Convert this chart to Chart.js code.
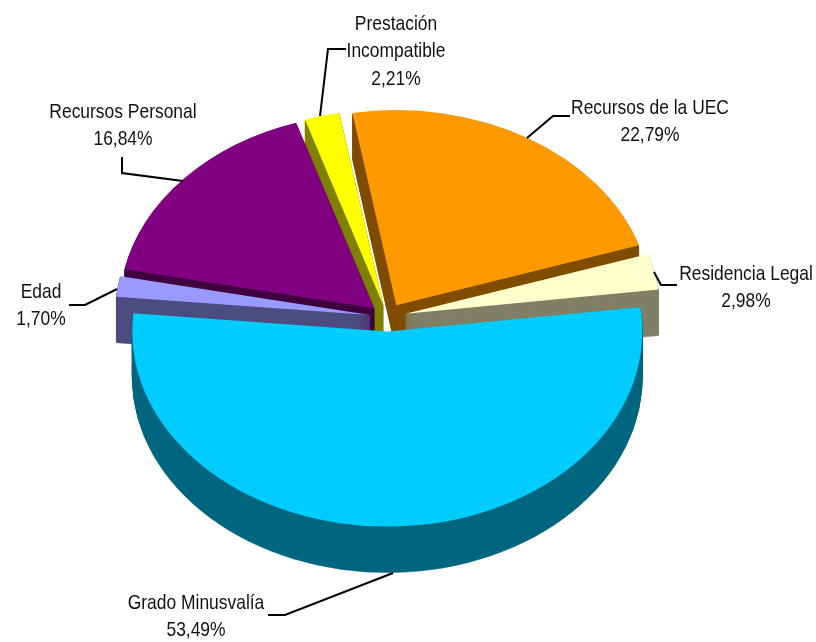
<!DOCTYPE html>
<html>
<head>
<meta charset="utf-8">
<title>Pie</title>
<script src="https://cdn.jsdelivr.net/npm/chart.js@4"></script>
<style>
  html, body { margin: 0; padding: 0; background: #fff; }
  canvas { display: block; }
</style>
</head>
<body>
<canvas id="tarta" width="816" height="642"></canvas>
<script>
// data, starting at the slice that sits at the chart rotation
const categorias = ["Edad", "Recursos Personal", "Prestación\nIncompatible", "Recursos de la UEC", "Residencia Legal", "Grado Minusvalía"];
const valores = [1.70, 16.84, 2.21, 22.79, 2.98, 53.49];

const colores = ["#9999FF", "#800080", "#FFFF00", "#FF9900", "#FFFFCC", "#00CCFF"];
const coloresLado = ["#4D4D80", "#400040", "#808000", "#804D00", "#808066", "#006680"];

// slice explosion in px, same order as valores
const separacion = [17, 17, 16, 18, 19, 19];

// where each label goes: center x, first line y, leader line points
const etiquetas = [
  { x: 41, y: 292, linea: [[69, 305], [85, 305], [117, 289]] },
  { x: 123, y: 112, linea: [[122, 157], [122, 173], [183, 181]] },
  { x: 396, y: 24, linea: [[346, 49], [328, 49], [320, 116]] },
  { x: 650, y: 108, linea: [[570, 116], [553, 116], [527, 138]] },
  { x: 746, y: 274, linea: [[677, 285], [661, 285], [654, 272]] },
  { x: 196, y: 603, linea: [[268, 615], [285, 615], [393, 573]] }
];

const aplastar = 0.765;  // pie tilt
const fondo = 46;        // thickness of the pie on screen
const altoLinea = 27.5;
const estrechar = 0.83;  // the labels use a narrow face

function porcentaje(v) {
  return v.toFixed(2).replace(".", ",") + "%";
}

const tarta3d = {
  id: "tarta3d",
  afterDatasetsUpdate(chart) {
    chart.getDatasetMeta(0).data.forEach((arc, i) => {
      const medio = (arc.startAngle + arc.endAngle) / 2;
      arc.x += Math.cos(medio) * separacion[i];
      arc.y += Math.sin(medio) * separacion[i];
    });
  },
  beforeDatasetsDraw(chart) {
    const ctx = chart.ctx;
    const cy = (chart.chartArea.top + chart.chartArea.bottom) / 2;
    ctx.save();
    ctx.translate(0, cy);
    ctx.scale(1, aplastar);
    ctx.translate(0, -cy);

    // the walls, from the back of the pie to the front
    const arcos = chart.getDatasetMeta(0).data.map((arc, i) => ({ arc, i }));
    arcos.sort((a, b) => Math.sin((a.arc.startAngle + a.arc.endAngle) / 2) - Math.sin((b.arc.startAngle + b.arc.endAngle) / 2));
    arcos.forEach(({ arc, i }) => {
      // thin border of the same colour, otherwise the stacked edges go blurry near the apex
      const opciones = Object.create(arc.options, {
        backgroundColor: { value: coloresLado[i] },
        borderColor: { value: coloresLado[i] },
        borderWidth: { value: 0.6 }
      });
      const lado = Object.create(arc, { options: { value: opciones } });
      for (let d = fondo; d >= 1; d--) {
        ctx.save();
        ctx.translate(0, d / aplastar);
        arc.draw.call(lado, ctx);
        ctx.restore();
      }
    });
  },
  afterDatasetsDraw(chart) {
    chart.ctx.restore();
  },
  afterDraw(chart) {
    const ctx = chart.ctx;
    ctx.save();
    ctx.strokeStyle = "#000";
    ctx.lineWidth = 2;
    ctx.fillStyle = "#111";
    ctx.font = '21px "Liberation Sans"';
    ctx.textAlign = "center";
    ctx.textBaseline = "middle";
    etiquetas.forEach((e, i) => {
      ctx.beginPath();
      e.linea.forEach((p, j) => j ? ctx.lineTo(p[0], p[1]) : ctx.moveTo(p[0], p[1]));
      ctx.stroke();
      const lineas = categorias[i].split("\n").concat(porcentaje(valores[i]));
      lineas.forEach((t, j) => {
        ctx.save();
        ctx.translate(e.x, e.y + j * altoLinea);
        ctx.scale(estrechar, 1);
        ctx.fillText(t, 0, 0);
        ctx.restore();
      });
    });
    ctx.restore();
  }
};

new Chart("tarta", {
  type: "pie",
  data: {
    labels: categorias,
    datasets: [{
      data: valores,
      backgroundColor: colores,
      borderWidth: 0,
      clip: false
    }]
  },
  options: {
    responsive: false,
    animation: false,
    events: [],
    rotation: 275.4,
    radius: 255,
    layout: { padding: { right: 42, bottom: 8 } },
    plugins: {
      legend: { display: false },
      title: { display: false },
      tooltip: { enabled: false }
    }
  },
  plugins: [tarta3d]
});
</script>
</body>
</html>
